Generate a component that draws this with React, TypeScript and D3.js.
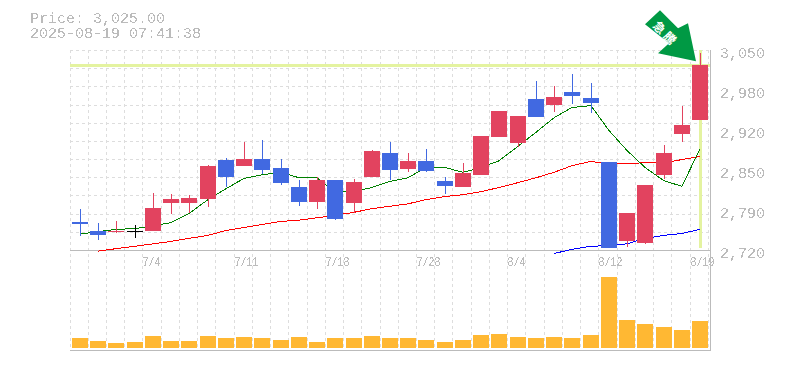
import React from "react";
import * as d3 from "d3";

const opens = [2766,2751,2750,2751,2751,2797,2797,2804,2868,2859,2870,2855,2824,2799,2835,2797,2840,2880,2854,2867,2834,2824,2844,2906,2897,2969,2959,2981,2971,2865,2735,2731,2844,2911,2934];
const closes = [2763,2745,2751,2751,2789,2804,2806,2859,2840,2870,2852,2831,2799,2835,2771,2832,2883,2852,2867,2850,2826,2847,2908,2949,2941,2939,2972,2974,2963,2723,2781,2827,2880,2926,3025];
const highs = [2788,2765,2768,2761,2814,2812,2811,2860,2872,2898,2901,2870,2835,2840,2835,2837,2885,2898,2880,2887,2840,2863,2908,2949,2941,2999,2991,3010,2996,2865,2781,2827,2893,2958,3045];
const lows = [2743,2736,2748,2740,2751,2779,2781,2791,2824,2859,2845,2827,2793,2788,2770,2781,2840,2835,2849,2849,2812,2824,2844,2906,2890,2939,2948,2961,2946,2723,2725,2730,2837,2898,2934];
const volumes = [10,7,5,6,12,7,7,12,10,11,10,8,11,6,10,10,12,10,10,8,6,8,13,14,11,10,11,10,13,71,28,24,21,18,27];
const maShort = [2747,2751,2755,2756,2761,2766,2781,2804,2822,2839,2845,2849,2840,2840,2817,2817,2824,2834,2840,2857,2857,2849,2857,2868,2892,2915,2939,2956,2959,2918,2885,2857,2835,2826,2888];
const maMid = [null,2719,2723,2727,2731,2735,2740,2745,2753,2758,2763,2768,2770,2774,2778,2783,2789,2793,2797,2804,2809,2812,2817,2824,2832,2840,2849,2860,2867,2863,2863,2865,2865,2870,2875];
const maLongStart = 26;
const maLong = [2715,2722,2727,2728,2731,2740,2745,2748,2755];
const priceTicks = [3050,2984,2918,2852,2786,2720];
const priceLabels = ["3,050","2,980","2,920","2,850","2,790","2,720"];
const dateIdx = [4,9,14,19,24,29,34];
const dateLabels = ["7/4","7/11","7/18","7/28","8/4","8/12","8/19"];
const titleLines = ["Price: 3,025.00","2025-08-19 07:41:38"];
const lastPrice = 3025;
const arrowLabel = "急騰";

const RED = "#e2435f", BLUE = "#4169e1", GREY = "#bbbbbb", GRID = "#dddddd", HILITE = "#e4f3a0";
const MONO = "'Liberation Mono','DejaVu Sans Mono',monospace";

export default function App() {
  const x = d3.scaleLinear().domain([0, 34]).range([80, 700]);
  const cx = (i: number) => Math.round(x(i));
  const y = d3.scaleLinear().domain([2720, 3050]).range([250, 50]);
  const py = (v: number) => Math.round(y(v));
  const vy = d3.scaleLinear().domain([0, 71]).range([348, 277]);
  const line = d3.line<number | null>()
    .defined((d) => d !== null)
    .x((_, i) => cx(i))
    .y((d) => y(d as number) + 0.5);
  const longLine = d3.line<number>().x((_, i) => cx(i + maLongStart)).y((d) => y(d) + 0.5);
  const gridX = d3.range(36).map((i) => Math.floor(x(i) - 10) + 0.5);
  const gridY = d3.range(12).map((i) => Math.round(50 + (i * 200) / 11) + 0.5);
  const ax = cx(34) - 4, ay = y(lastPrice) - 4;
  const arrow = [[-36,-51],[-18,-33],[-8,-38],[0,0],[-38,-8],[-27,-18],[-51,-37]].map((p) => `${ax + p[0]},${ay + p[1]}`).join(" ");
  const lx = ax - 29.5, ly = ay - 28;
  return (
    <svg width={785} height={370} style={{ position: "absolute", left: 0, top: 0 }}>
      <defs>
        <filter id="crisp" x="0" y="0" width="100%" height="100%" colorInterpolationFilters="sRGB">
          <feComponentTransfer>
            <feFuncA type="discrete" tableValues="0 1" />
          </feComponentTransfer>
        </filter>
      </defs>
      <rect width={785} height={370} fill="#fff" />
      <g stroke={GRID} strokeDasharray="3,3" shapeRendering="crispEdges">
        {gridX.map((g, i) => <line key={i} x1={g} x2={g} y1={50} y2={350} />)}
        {gridY.map((g, i) => <line key={i} x1={70} x2={710} y1={g} y2={g} />)}
      </g>
      <g fill={HILITE} shapeRendering="crispEdges">
        <rect x={70} y={py(lastPrice) - 1} width={640} height={3} />
        <rect x={cx(34) - 1} y={50} width={3} height={198} />
      </g>
      <g stroke={GREY} fill="none" shapeRendering="crispEdges">
        <line x1={70} x2={711} y1={250.5} y2={250.5} />
        <line x1={70} x2={711} y1={350.5} y2={350.5} />
        <line x1={710.5} x2={710.5} y1={50} y2={351} />
      </g>
      <g fill="none" strokeWidth={1} shapeRendering="crispEdges">
        <path d={longLine(maLong) as string} stroke="#0000ff" />
        <path d={line(maMid) as string} stroke="#ff0000" />
        <path d={line(maShort) as string} stroke="#008000" />
      </g>
      <g shapeRendering="crispEdges">
        {opens.map((o, i) => {
          const c = closes[i];
          const col = c > o ? RED : c < o ? BLUE : "#000000";
          const top = py(Math.max(o, c));
          const h = Math.max(1, py(Math.min(o, c)) - top);
          return (
            <g key={i} fill={col}>
              <rect x={cx(i)} y={py(highs[i])} width={1} height={py(lows[i]) - py(highs[i])} />
              <rect x={cx(i) - 8} y={top} width={16} height={h} />
            </g>
          );
        })}
      </g>
      <g fill="#ffb833" shapeRendering="crispEdges">
        {volumes.map((v, i) => (
          <rect key={i} x={cx(i) - 8} y={vy(v)} width={16} height={348 - vy(v)} />
        ))}
      </g>
      <polygon points={arrow} fill="#009944" />
      <text x={lx} y={ly} fill="#fff" fontSize={12} fontWeight={700} letterSpacing={3} textAnchor="middle" dominantBaseline="central"
        fontFamily="'Noto Sans CJK JP'" transform={`rotate(45 ${lx} ${ly})`}>{arrowLabel}</text>
      <g fill={GREY} fontFamily={MONO} fontSize={15} filter="url(#crisp)">
        {titleLines.map((t, i) => <text key={i} x={30} y={23 + i * 15}>{t}</text>)}
        {priceTicks.map((t, i) => <text key={i} x={720} y={y(t) + 8}>{priceLabels[i]}</text>)}
        {dateIdx.map((d, i) => (
          <text key={i} x={gridX[d]} y={266} fontSize={13} textLength={dateLabels[i].length * 6} lengthAdjust="spacingAndGlyphs">{dateLabels[i]}</text>
        ))}
      </g>
    </svg>
  );
}
